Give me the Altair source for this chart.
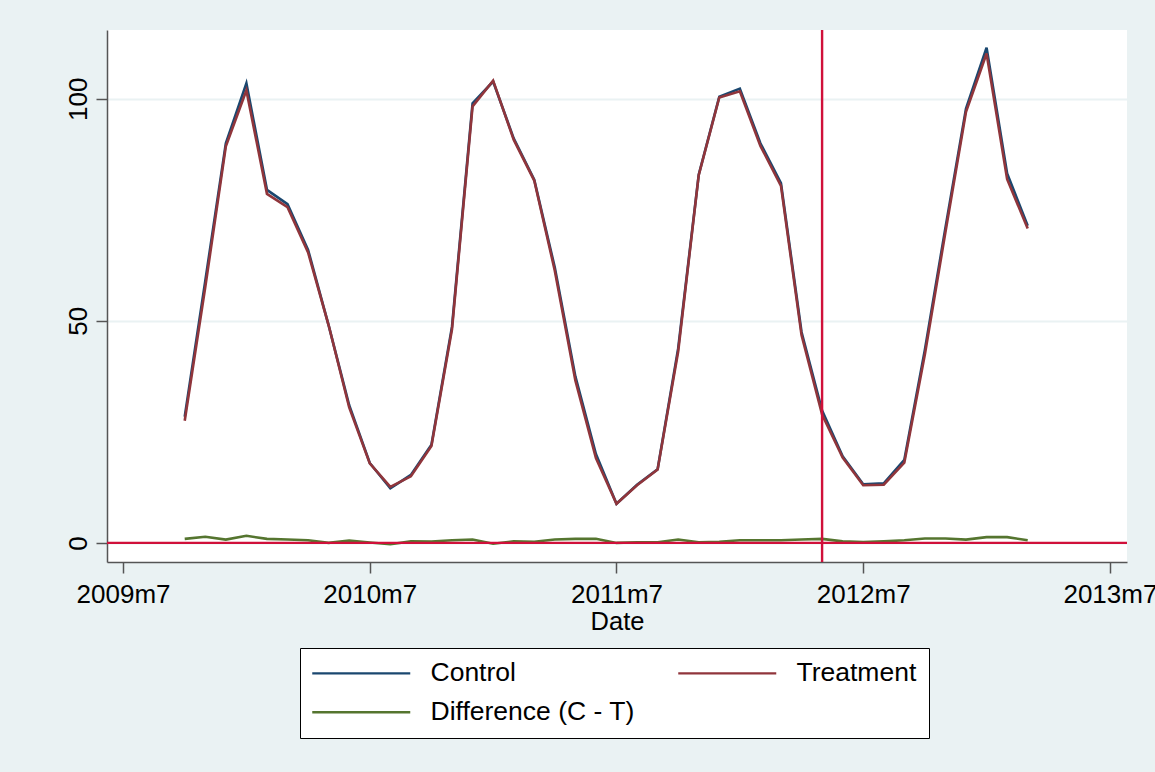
import altair as alt
import pandas as pd

months = ["2009m10", "2009m11", "2009m12", "2010m1", "2010m2", "2010m3", "2010m4", "2010m5",
          "2010m6", "2010m7", "2010m8", "2010m9", "2010m10", "2010m11", "2010m12", "2011m1",
          "2011m2", "2011m3", "2011m4", "2011m5", "2011m6", "2011m7", "2011m8", "2011m9",
          "2011m10", "2011m11", "2011m12", "2012m1", "2012m2", "2012m3", "2012m4", "2012m5",
          "2012m6", "2012m7", "2012m8", "2012m9", "2012m10", "2012m11", "2012m12", "2013m1",
          "2013m2", "2013m3"]

control = [28.4, 59.0, 90.0, 103.5, 79.5, 76.3, 66.0, 49.0, 31.0, 18.0, 12.3, 15.3, 22.1, 48.7,
           99.0, 103.9, 91.1, 81.8, 62.0, 37.5, 20.0, 8.8, 13.1, 16.6, 43.8, 82.9, 100.5, 102.3,
           90.0, 81.0, 47.5, 29.8, 19.5, 13.2, 13.4, 18.7, 43.5, 71.0, 97.8, 111.5, 83.2, 71.4]

treatment = [27.5, 57.6, 89.3, 101.9, 78.6, 75.6, 65.4, 49.0, 30.5, 17.9, 12.6, 15.0, 21.8, 48.1,
             98.3, 104.1, 90.8, 81.6, 61.3, 36.6, 19.1, 8.8, 13.0, 16.5, 43.1, 82.8, 100.3, 101.7,
             89.4, 80.4, 46.8, 28.9, 19.2, 13.0, 13.1, 18.1, 42.5, 70.0, 97.1, 110.2, 81.9, 70.8]

difference = [0.9, 1.4, 0.75, 1.6, 0.9, 0.75, 0.6, 0.0, 0.55, 0.1, -0.3, 0.35, 0.3, 0.6,
              0.75, -0.2, 0.35, 0.25, 0.75, 0.9, 0.95, 0.0, 0.15, 0.15, 0.75, 0.15, 0.25, 0.6,
              0.6, 0.6, 0.75, 0.9, 0.35, 0.2, 0.35, 0.6, 1.0, 1.0, 0.75, 1.3, 1.3, 0.6]

series_names = ["Control", "Treatment", "Difference (C - T)"]
series_colors = ["#1A476F", "#90353B", "#55752F"]

x_ticks = [0, 12, 24, 36, 48]  # months since 2009m7
treatment_month = "2012m5"
ref_zero = 0


def month_index(label):
    y, m = label.split("m")
    return (int(y) - 2009) * 12 + (int(m) - 7)


rows = []
for name, vals in zip(series_names, [control, treatment, difference]):
    for mlab, v in zip(months, vals):
        rows.append({"t": month_index(mlab), "value": v, "series": name})
df = pd.DataFrame(rows)

FONT = "Liberation Sans"
REDLINE = "#D0103A"

x_scale = alt.Scale(domain=[-0.78, 48.83], nice=False, zero=False)
y_scale = alt.Scale(domain=[-4.3, 115.5], nice=False, zero=False)

lines = alt.Chart(df).mark_line(strokeWidth=2.6, clip=True).encode(
    x=alt.X("t:Q", scale=x_scale,
            axis=alt.Axis(values=x_ticks, title="Date",
                          labelExpr="toString(2009 + floor(datum.value / 12)) + 'm7'",
                          grid=False, tickSize=11, labelPadding=8, titlePadding=2,
                          domainColor="#555555", tickColor="#555555", domainWidth=1.5,
                          tickWidth=1.5, labelFontSize=26, titleFontSize=25.5,
                          labelColor="black", titleColor="black", titleFontWeight="normal",
                          labelFont=FONT, titleFont=FONT, labelFlush=False, labelOverlap=False)),
    y=alt.Y("value:Q", scale=y_scale,
            axis=alt.Axis(values=[0, 50, 100], title=None, grid=True, gridColor="#EAF2F3",
                          gridWidth=2, tickSize=11, labelPadding=10, labelAngle=270,
                          labelAlign="center", labelBaseline="alphabetic",
                          domainColor="#555555", tickColor="#555555", domainWidth=1.5,
                          tickWidth=1.5, labelFontSize=26, labelColor="black",
                          labelFont=FONT)),
    color=alt.Color("series:N",
                    scale=alt.Scale(domain=series_names, range=series_colors),
                    legend=alt.Legend(title=None, orient="none", legendX=193, legendY=618,
                                      values=series_names, direction="horizontal",
                                      columns=2, columnPadding=38, rowPadding=12,
                                      symbolType="M-2.6,0H17", symbolSize=100,
                                      symbolStrokeWidth=2.4, symbolFillColor="transparent",
                                      labelFontSize=26.5, labelFont=FONT, labelColor="black",
                                      labelOffset=92, padding=12, fillColor="white",
                                      strokeColor="black", labelLimit=400)),
    detail="series:N",
)

ref_df = pd.DataFrame({"t": [month_index(treatment_month)], "z": [ref_zero]})

vline = alt.Chart(ref_df).mark_rule(color=REDLINE, strokeWidth=2.4).encode(
    x=alt.X("t:Q", scale=x_scale)
)
hline = alt.Chart(ref_df).mark_rule(color=REDLINE, strokeWidth=2.4).encode(
    y=alt.Y("z:Q", scale=y_scale)
)

chart = alt.layer(lines, hline, vline).properties(
    width=1020, height=532,
    autosize=alt.AutoSizeParams(type="none"),
    padding={"left": 107, "top": 30, "right": 28, "bottom": 210},
    background="#EAF2F3",
).configure_view(fill="white", stroke=None)

chart.save("out.html", embed_options={"renderer": "svg", "actions": False})
